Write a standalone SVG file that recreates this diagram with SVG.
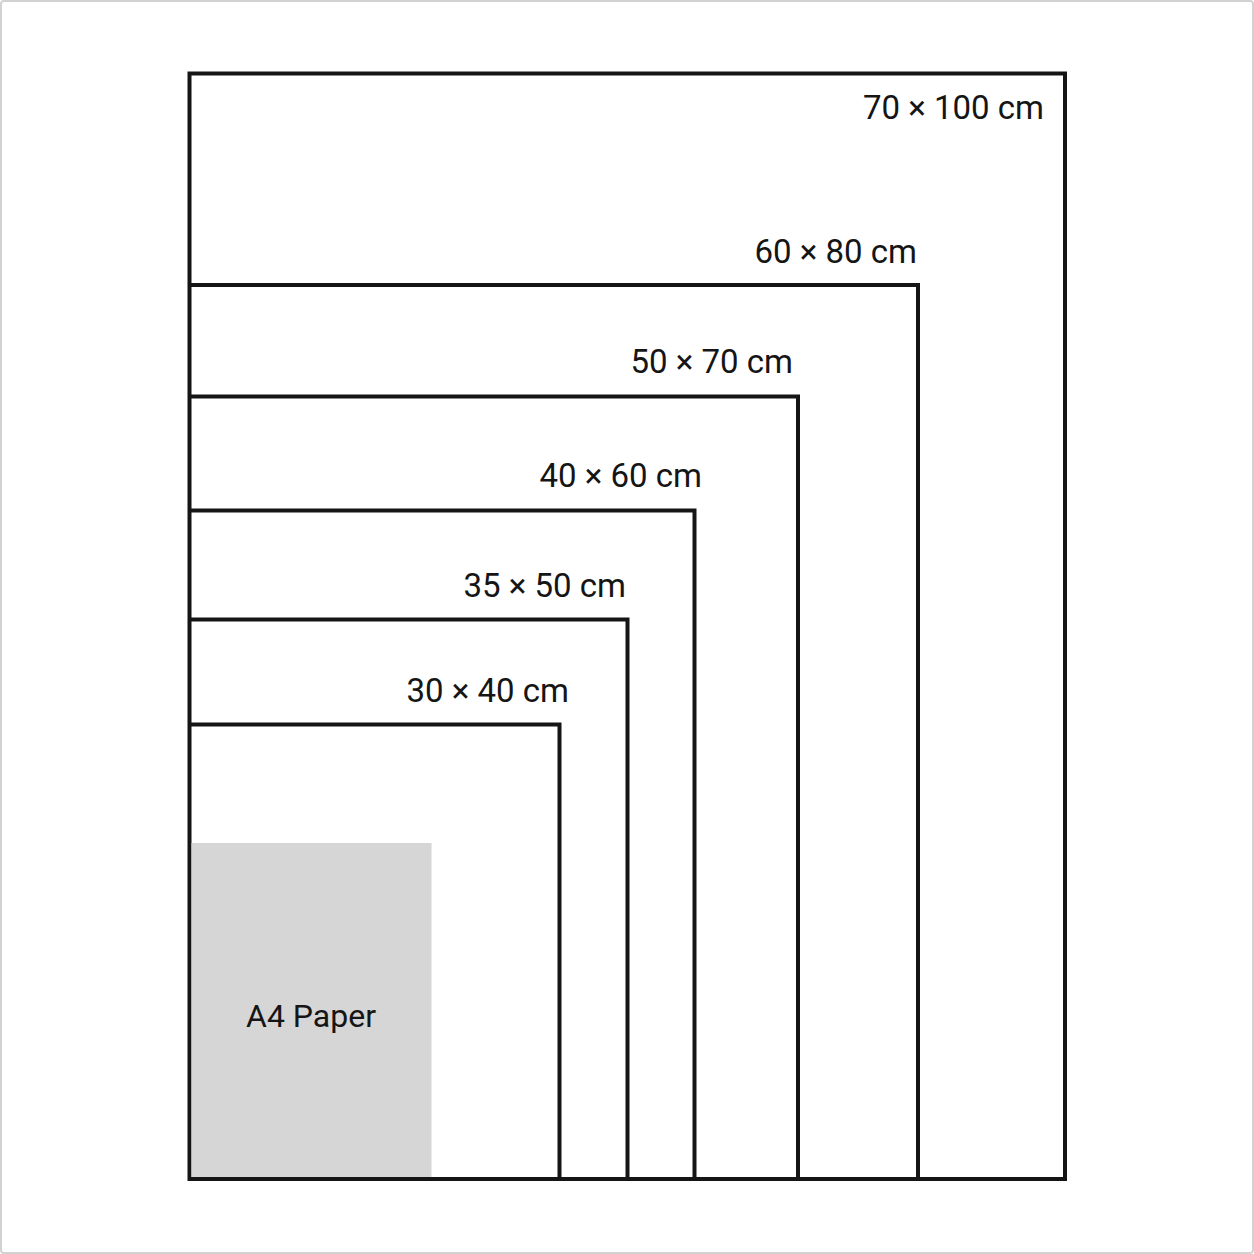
<svg xmlns="http://www.w3.org/2000/svg" width="1254" height="1254" viewBox="0 0 1254 1254">
<style>
.frame{fill:none;stroke:#151515;stroke-width:4}
.lbl{font-family:Roboto,"Liberation Sans",Arial,sans-serif;font-size:33px;fill:#151515;text-anchor:end}
.a4{font-family:Roboto,"Liberation Sans",Arial,sans-serif;font-size:32px;fill:#151515;text-anchor:middle}
</style>
<rect x="0" y="0" width="1254" height="1254" fill="#ffffff"/>
<rect x="1" y="1" width="1252" height="1252" rx="3" fill="none" stroke="#d2d2d2" stroke-width="2"/>
<g id="size-70x100">
<rect class="frame" x="189.5" y="73.5" width="875.5" height="1105.5"/>
<text class="lbl" x="1044" y="119">70 × 100 cm</text>
</g>
<g id="size-60x80">
<path class="frame" d="M189.5,285 H918 V1179"/>
<text class="lbl" x="917" y="263">60 × 80 cm</text>
</g>
<g id="size-50x70">
<path class="frame" d="M189.5,396.5 H798 V1179"/>
<text class="lbl" x="793" y="373">50 × 70 cm</text>
</g>
<g id="size-40x60">
<path class="frame" d="M189.5,510.5 H694.5 V1179"/>
<text class="lbl" x="702" y="487">40 × 60 cm</text>
</g>
<g id="size-35x50">
<path class="frame" d="M189.5,619.5 H627.5 V1179"/>
<text class="lbl" x="626" y="597">35 × 50 cm</text>
</g>
<g id="size-30x40">
<path class="frame" d="M189.5,724.5 H559.5 V1179"/>
<text class="lbl" x="569" y="702">30 × 40 cm</text>
</g>
<g id="a4-paper">
<rect x="191.5" y="843" width="240" height="334" fill="#d6d6d6"/>
<text class="a4" x="311" y="1027">A4 Paper</text>
</g>
</svg>
